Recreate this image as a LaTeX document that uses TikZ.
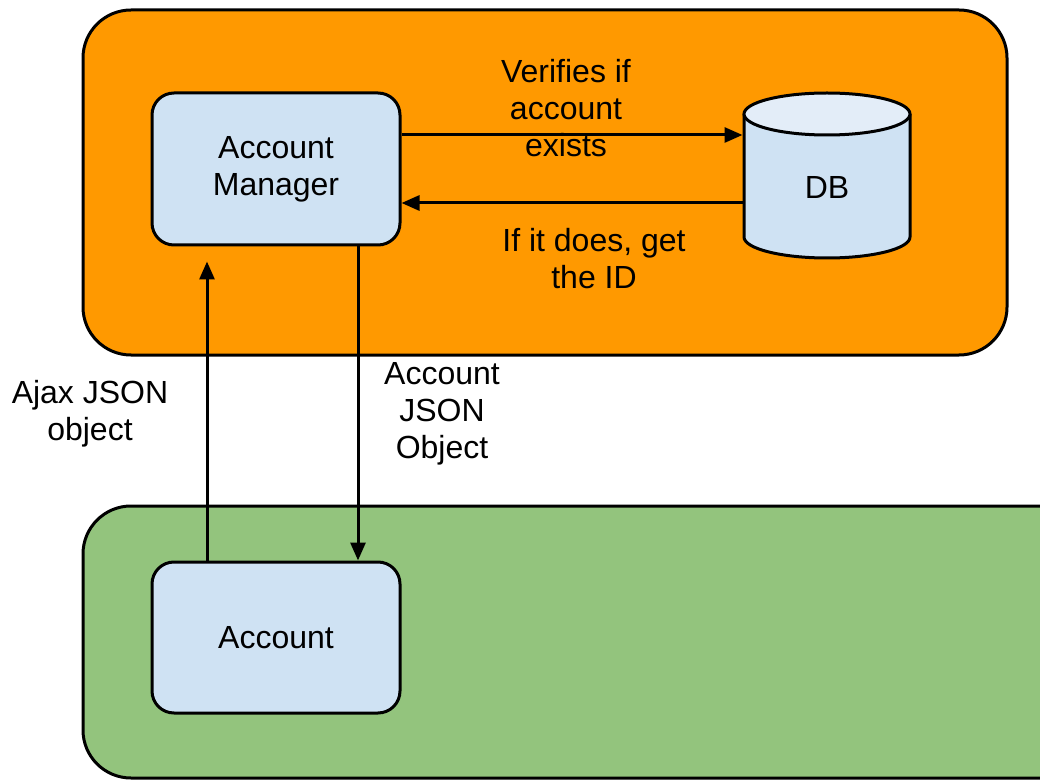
\documentclass[tikz,border=0pt]{standalone}
\usepackage{fontspec}
\setmainfont{Liberation Sans}
\usetikzlibrary{arrows.meta}
\definecolor{panelorange}{HTML}{FF9900}
\definecolor{panelgreen}{HTML}{93C47D}
\definecolor{boxblue}{HTML}{CFE2F3}
\definecolor{captop}{HTML}{E3EDF8}
\begin{document}
\begin{tikzpicture}[x=1pt,y=1pt,line width=3pt,
  panel/.style={draw=black,rounded corners=48pt},
  compbox/.style={draw,fill=boxblue,rounded corners=22pt,minimum width=248pt,
    minimum height=152pt,inner sep=0pt,align=center,font=\fontsize{32}{37}\selectfont},
  lbl/.style={align=center,inner sep=0pt,font=\fontsize{32}{37}\selectfont},
  arr/.style={-{Triangle[length=18pt,width=15pt]}}]
\useasboundingbox (0,0) rectangle (1040,780);
\clip (0,0) rectangle (1040,780);

% server and client panels
\draw[panel,fill=panelorange] (83,425) rectangle (1007,770);
\draw[panel,fill=panelgreen] (83,2) rectangle (1090,274);

% components
\node[compbox] (am) at (276,611) {Account\\Manager};
\node[compbox,minimum height=151pt] (acct) at (276,142.5) {Account};

% database cylinder
\node[minimum width=166pt,minimum height=165pt,inner sep=0pt] (db) at (827,604.5) {};
\fill[boxblue] (744,666) -- (744,543) arc[start angle=180,end angle=360,x radius=83,y radius=21] -- (910,666) -- cycle;
\draw (744,666) -- (744,543) arc[start angle=180,end angle=360,x radius=83,y radius=21] -- (910,666);
\draw[fill=captop] (827,666) ellipse[x radius=83,y radius=21];
\node[lbl] (dbtext) at (827,593) {DB};

% connectors
\draw[arr] ([yshift=34pt]am.east) -- ([yshift=40.5pt]db.west);
\draw[arr] ([yshift=-27.5pt]db.west) -- ([yshift=-34pt]am.east);
\draw[arr,shorten >=15pt] ([xshift=-69pt]acct.north) -- ([xshift=-69pt]am.south);
\draw[arr] ([xshift=82pt]am.south) -- ([xshift=82pt]acct.north);

% connector labels
\node[lbl] (verify) at (566,672) {Verifies if\\account\\exists};
\node[lbl] (ifdoes) at (594,521.5) {If it does, get\\the ID};
\node[lbl] (ajax) at (90,366.5) {Ajax JSON\\object};
\node[lbl] (acctjson) at (442,366.5) {Account\\JSON\\Object};
\end{tikzpicture}
\end{document}
